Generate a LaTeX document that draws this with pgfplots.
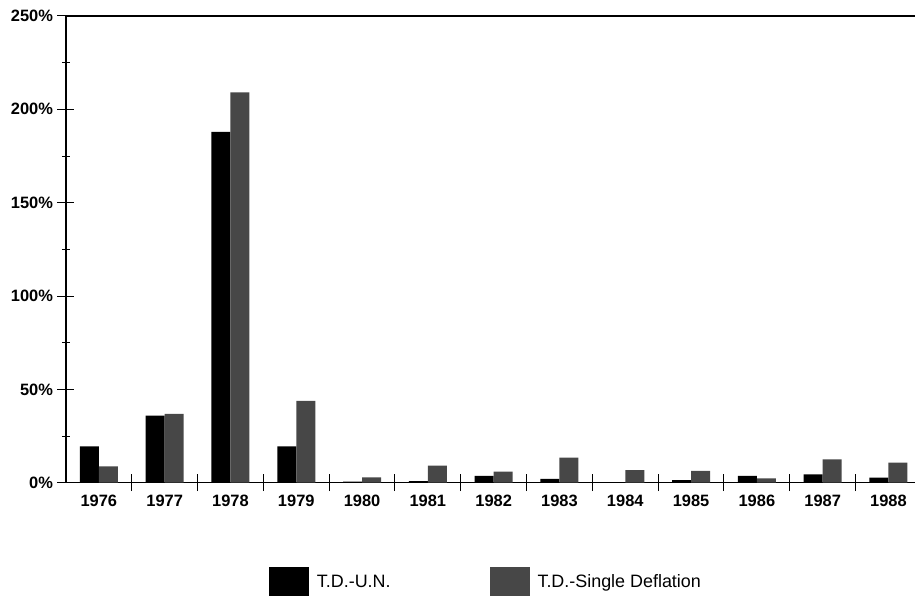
\documentclass[border=0pt]{standalone}
\usepackage{fontspec}
\setmainfont{Liberation Sans}
\usepackage{pgfplots}
\pgfplotsset{compat=1.18}

\definecolor{speckle}{gray}{0.28}

\begin{document}
\begin{tikzpicture}
\begin{axis}[
  at={(0,0)}, anchor=south west,
  scale only axis,
  width=850bp, height=467bp,
  ybar=0pt,
  bar width=19bp,
  xmin=-0.5, xmax=12.41,
  ymin=0, ymax=250,
  axis x line*=bottom,
  axis y line*=left,
  axis line style={line width=1.1pt, -},
  xtick={0.5,1.5,...,11.5},
  xticklabels={},
  extra x ticks={0,...,12},
  extra x tick labels={1976,1977,1978,1979,1980,1981,1982,1983,1984,1985,1986,1987,1988},
  extra x tick style={major tick length=0pt, xticklabel style={yshift=-9bp}},
  ytick={0,50,...,250},
  minor y tick num=1,
  tick align=center,
  major tick length=17bp,
  minor tick length=8bp,
  tick style={line width=1pt, black},
  yticklabel={\pgfmathprintnumber{\tick}\%},
  /pgf/number format/assume math mode=true,
  ticklabel style={font=\fontsize{16.5}{19}\selectfont\bfseries},
  yticklabel style={xshift=-1bp},
  clip=false,
  legend style={at={(0.239,-0.212)}, anchor=west, draw=none,
    inner sep=0pt, outer sep=0pt,
    legend columns=2, font=\fontsize{18}{21}\selectfont,
    /tikz/every odd column/.append style={column sep=6bp},
    /tikz/every even column/.append style={column sep=97bp}},
  legend image code/.code={\fill[#1] (0bp,-14.5bp) rectangle (40bp,14.5bp);},
]
\addplot[fill=black, draw=none] coordinates {
  (0,19.4) (1,36.0) (2,187.9) (3,19.4) (4,0.6) (5,0.8) (6,3.6)
  (7,2.1) (8,0) (9,1.4) (10,3.6) (11,4.5) (12,2.7)};
\addplot[fill=speckle, draw=none] coordinates {
  (0,8.7) (1,36.9) (2,209.1) (3,43.9) (4,2.8) (5,9.1) (6,6.0)
  (7,13.5) (8,6.8) (9,6.3) (10,2.3) (11,12.5) (12,10.7)};
\legend{T.D.-U.N., T.D.-Single Deflation}
\draw[line width=1.1pt] (rel axis cs:0,1) -- (rel axis cs:1,1);
\end{axis}
\path[use as bounding box] (-66bp,-114bp) rectangle (850bp,483bp);
\end{tikzpicture}
\end{document}
